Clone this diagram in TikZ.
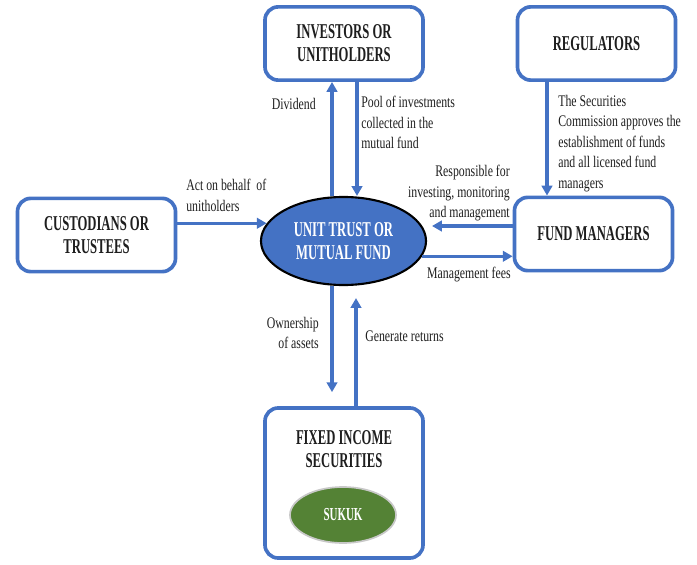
\documentclass[tikz,border=0pt]{standalone}
\usepackage{fontspec}
\setmainfont{Liberation Serif}[FakeStretch=0.73]
\newfontfamily\headfont{Liberation Serif}[FakeStretch=0.6]
\usepackage{tikz}
\usetikzlibrary{arrows.meta,calc,positioning,shapes.geometric}
\usepackage{xcolor}
\definecolor{fundblue}{HTML}{4472C4}
\definecolor{sukukgreen}{HTML}{548235}
\definecolor{sukukrim}{HTML}{C8C8C8}
\definecolor{inkgrey}{HTML}{1E1E1E}

\begin{document}
\begin{tikzpicture}[x=0.025cm, y=-0.025cm,
  party/.style={draw=fundblue, line width=2.6pt, rounded corners=0.33cm, fill=white,
    minimum width=3.95cm, minimum height=1.83cm, align=center, text=inkgrey,
    font=\headfont\bfseries\fontsize{15}{16.5}\selectfont},
  boxtext/.style={align=center, text=inkgrey, inner sep=0pt,
    font=\headfont\bfseries\fontsize{15}{16.5}\selectfont},
  flow/.style={draw=fundblue, line width=2.3pt, -{Triangle[width=7.5pt,length=7pt]}},
  note/.style={inner sep=0pt, text=inkgrey, font=\fontsize{11.5}{14.5}\selectfont}]
\useasboundingbox (0,0) rectangle (697,565);

%----- parties round the fund -----
\node[party] (inv) at (344,43.5) {INVESTORS OR\\UNITHOLDERS};
\node[party] (reg) at (596.5,43.5) {REGULATORS};
\node[party] (cust) at (96.5,235) {CUSTODIANS OR\\TRUSTEES};
\node[party] (fm) at (593.5,234) {FUND MANAGERS};
\node[party, minimum height=3.75cm] (fis) at (344,483) {};
\node[boxtext] (fistext) at (344,449) {FIXED INCOME\\SECURITIES};

% the fund itself and the sukuk inside the securities box
\node[ellipse, draw=black, line width=1.5pt, fill=fundblue, text=white, align=center,
  minimum width=4.125cm, minimum height=2.2cm, inner sep=0pt,
  font=\headfont\bfseries\fontsize{15}{16.5}\selectfont] (ut) at (343.5,241) {UNIT TRUST OR\\MUTUAL FUND};
\node[ellipse, draw=sukukrim, line width=1.2pt, fill=sukukgreen, text=white,
  minimum width=2.65cm, minimum height=1.4cm, inner sep=0pt,
  font=\headfont\bfseries\fontsize{13}{15}\selectfont] (sukuk) at (343,515) {SUKUK};

%----- investors -----
\draw[flow] (ut.north -| 332,0) -- (inv.south -| 332,0);
\draw[flow] (inv.south -| 357,0) -- (ut.north -| 357,0);
\node[note, anchor=east] (divtext) at (316,104) {Dividend};
\node[note, anchor=north west, align=left] (pooltext) at (361,96) {Pool of investments\\collected in the\\mutual fund};

%----- regulators -----
\draw[flow] (reg.south -| 547,0) -- (fm.north -| 547,0);
\node[note, anchor=north west, align=left] (sctext) at (558,95) {The Securities\\Commission approves the\\establishment of funds\\and all licensed fund\\managers};

%----- custodians -----
\draw[flow] (cust.east |- ut.167) -- (ut.167);
\node[note, anchor=north west, align=left] (acttext) at (186,179) {Act on behalf\ \ of\\unitholders};

%----- fund managers -----
\coordinate (fmin) at (fm.west |- 0,226);
\draw[flow] (fmin) -- (fmin -| 432,0);
\draw[flow] (ut.-11) -- (ut.-11 -| fm.west);
\node[note, anchor=north east, align=right] (resptext) at (510,165) {Responsible for\\investing, monitoring\\and management};
\node[note, anchor=north east] (feetext) at (511,267) {Management fees};

%----- fixed income securities -----
\draw[flow] (ut.south -| 332,0) -- ($(fis.north -| 332,0)+(0,-14)$);
\draw[flow] (fis.north -| 356,0) -- ($(ut.south -| 356,0)+(0,12)$);
\node[note, anchor=north east, align=right] (owntext) at (319,317) {Ownership\\of assets};
\node[note, anchor=north west] (rettext) at (365,331) {Generate returns};
\end{tikzpicture}
\end{document}
